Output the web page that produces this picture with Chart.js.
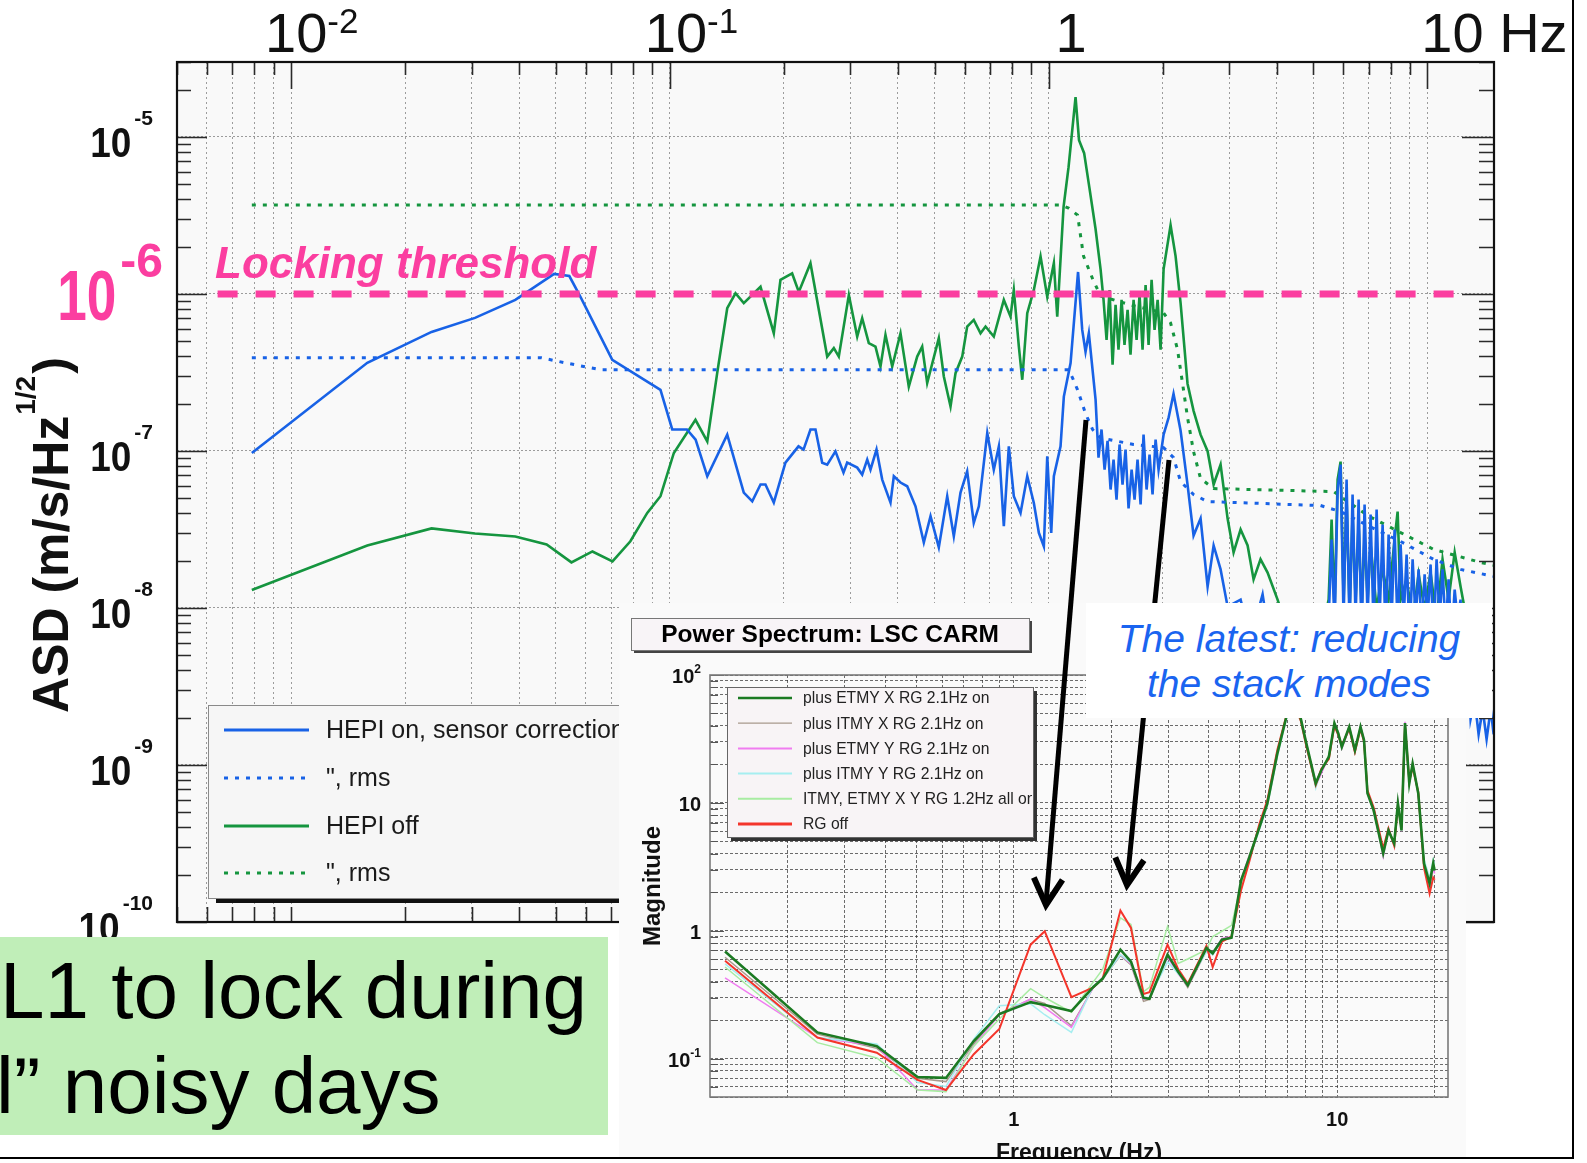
<!DOCTYPE html>
<html>
<head>
<meta charset="utf-8">
<title>HEPI sensor correction – ground velocity ASD</title>
<script src="https://cdn.jsdelivr.net/npm/chart.js@4.4.1/dist/chart.umd.min.js"></script>
<style>
  html, body { margin: 0; padding: 0; background: #fff; }
  body { position: relative; width: 1587px; height: 1163px; overflow: hidden;
         font-family: "Liberation Sans", Arial, sans-serif; }
  #asd { position: absolute; left: 0; top: 0; z-index: 0; }
  #carmPanel { position: absolute; left: 619px; top: 603px; width: 847px; height: 555px;
               background: #fafafa; z-index: 1; }
  #carm { position: absolute; left: 0; top: 0; }
  #arrows { position: absolute; left: 0; top: 0; z-index: 2; pointer-events: none; }
  #stackNote { position: absolute; left: 1086px; top: 603px; width: 406px; height: 115px;
               background: #fff; z-index: 3; box-sizing: border-box; padding-top: 13px;
               color: #1a64f0; font: italic 39px/45px "Liberation Sans", Arial, sans-serif;
               text-align: center; white-space: nowrap; }
  #lockNote { position: absolute; left: 0; top: 937px; width: 608px; height: 198px;
              background: #c0eeb8; z-index: 3; box-sizing: border-box; padding-top: 6px;
              color: #000; font: 80px/95px "Liberation Sans", Arial, sans-serif;
              white-space: nowrap; overflow: hidden; }
  .rule { position: absolute; background: #000; z-index: 4; }
</style>
</head>
<body>
<canvas id="asd" width="1587" height="1163"></canvas>
<div id="carmPanel"><canvas id="carm" width="847" height="555"></canvas></div>
<svg id="arrows" width="1587" height="1163"></svg>
<div id="stackNote">The latest: reducing<br>the stack modes</div>
<div id="lockNote"><div>L1 to lock during</div><div style="margin-left:-4px">l” noisy days</div></div>
<div class="rule" style="left:1572px;top:0;width:2px;height:1159px"></div>
<div class="rule" style="left:0;top:1157px;width:1574px;height:2px"></div>

<script>
// ---------------- Ground velocity ASD (m/s/√Hz) vs frequency (Hz) ----------------
const hepiOnFreq = [
  0.00788, 0.0159, 0.0235, 0.0306, 0.0391, 0.0495, 0.0543, 0.0581, 0.0705, 0.0945,
  0.1015, 0.111, 0.117, 0.1256, 0.1418, 0.1568, 0.1651, 0.1736, 0.1789, 0.1882,
  0.202, 0.2187, 0.2255, 0.2352, 0.2425, 0.2526, 0.2604, 0.2738, 0.2875, 0.294,
  0.3125, 0.3221, 0.3321, 0.3388, 0.3514, 0.3638, 0.3826, 0.3904, 0.4066, 0.4235,
  0.4454, 0.4685, 0.488, 0.5132, 0.5401, 0.5622, 0.5856, 0.6098, 0.6347, 0.6546,
  0.689, 0.7169, 0.7392, 0.762, 0.7855, 0.8097, 0.8435, 0.8786, 0.9145, 0.9428,
  0.9719, 0.9922, 1.0165, 1.0328, 1.0757, 1.0975, 1.1433, 1.1965, 1.2272, 1.2522,
  1.2776,
  1.331, 1.355, 1.380, 1.406, 1.4316, 1.458, 1.4847, 1.512, 1.540, 1.568,
  1.597, 1.6266, 1.657, 1.687, 1.7178, 1.750, 1.7817, 1.815, 1.848, 1.882,
  1.917, 1.952,
  2.0127, 2.0749, 2.138, 2.2314, 2.328, 2.415, 2.52, 2.63, 2.728, 2.846,
  2.97, 3.214, 3.415, 3.674, 3.975, 4.355, 4.771, 5.164,
  5.489, 5.589, 5.692, 5.797, 5.903, 6.012, 6.122, 6.235, 6.349, 6.467,
  6.586, 6.707, 6.830, 6.957, 7.085, 7.215, 7.348, 7.482, 7.621, 7.761,
  7.904, 8.049, 8.197, 8.349, 8.502, 8.659, 8.818, 8.981, 9.146, 9.314,
  9.485, 9.660, 9.838, 10.02, 10.20, 10.39, 10.58, 10.78, 10.97, 11.18,
  11.38, 11.59, 11.81, 12.02, 12.24, 12.47, 12.70, 13.01, 13.33, 13.66,
  14.00, 14.34, 14.70, 14.97
];
const hepiOnAsd = [
  9.71e-8, 3.64e-7, 5.73e-7, 7.04e-7, 9.16e-7, 1.34e-6, 1.30e-6, 9.57e-7, 3.81e-7, 2.45e-7,
  1.37e-7, 1.37e-7, 1.18e-7, 6.90e-8, 1.27e-7, 5.43e-8, 4.78e-8, 6.11e-8, 6.11e-8, 4.69e-8,
  8.42e-8, 1.07e-7, 1.02e-7, 1.37e-7, 1.37e-7, 8.42e-8, 8.18e-8, 9.94e-8, 7.28e-8, 8.42e-8,
  7.83e-8, 7.07e-8, 8.81e-8, 7.60e-8, 1.02e-7, 6.57e-8, 4.69e-8, 6.90e-8, 6.29e-8, 5.96e-8,
  4.44e-8, 2.61e-8, 3.84e-8, 2.43e-8, 5.15e-8, 2.86e-8, 5.43e-8, 7.42e-8, 3.48e-8, 4.44e-8,
  1.30e-7, 7.60e-8, 1.07e-7, 3.32e-8, 1.07e-7, 5.15e-8, 4.03e-8, 6.90e-8, 4.66e-8, 3.01e-8,
  2.47e-8, 9.24e-8, 3.01e-8, 6.90e-8, 1.07e-7, 2.22e-7, 3.63e-7, 1.38e-6, 5.90e-7, 4.28e-7,
  5.62e-7,
  2.12e-7, 9.07e-8, 1.37e-7, 7.60e-8, 1.16e-7, 5.68e-8, 8.81e-8, 4.90e-8, 1.10e-7, 6.11e-8,
  1.02e-7, 4.30e-8, 7.60e-8, 4.90e-8, 8.81e-8, 4.56e-8, 1.27e-7, 5.68e-8, 9.47e-8, 5.28e-8,
  1.18e-7, 7.60e-8,
  1.27e-7, 1.63e-7, 2.31e-7, 1.35e-7, 6.11e-8, 2.89e-8, 3.71e-8, 1.37e-8, 2.50e-8, 1.76e-8,
  1.02e-8, 1.13e-8, 6.32e-9, 1.22e-8, 3.52e-9, 8.46e-9, 1.96e-9, 4.71e-9,
  8.46e-9, 2.73e-8, 7.31e-9, 5.68e-8, 8.18e-8, 8.46e-9, 6.57e-8, 7.31e-9, 5.28e-8, 8.46e-9,
  4.90e-8, 6.32e-9, 4.56e-8, 8.46e-9, 3.94e-8, 7.31e-9, 4.23e-8, 8.46e-9, 3.40e-8, 6.32e-9,
  2.94e-8, 8.46e-9, 3.16e-8, 7.31e-9, 2.54e-8, 8.46e-9, 2.19e-8, 6.32e-9, 2.04e-8, 8.46e-9,
  1.76e-8, 7.31e-9, 1.64e-8, 8.46e-9, 1.89e-8, 6.32e-9, 2.04e-8, 8.46e-9, 1.76e-8, 7.31e-9,
  1.52e-8, 6.32e-9, 1.31e-8, 8.46e-9, 1.13e-8, 2.62e-9, 6.32e-9, 1.96e-9, 2.62e-9, 1.57e-9,
  2.27e-9, 1.46e-9, 2.27e-9, 1.57e-9
];
const hepiOnRmsFreq = [0.00788, 0.0458, 0.053, 0.0656, 1.129, 1.157, 1.193, 1.2522, 1.307, 1.3719,
  1.677, 2.0127, 2.138, 2.2314, 2.415, 2.63, 5.226, 5.902, 6.957, 8.501, 10.39, 12.24, 14.96];
const hepiOnRms = [3.92e-7, 3.92e-7, 3.64e-7, 3.29e-7, 3.29e-7, 2.92e-7, 2.45e-7, 1.73e-7, 1.37e-7, 1.21e-7,
  1.10e-7, 1.05e-7, 9.07e-8, 6.38e-8, 5.28e-8, 4.76e-8, 4.49e-8, 4.11e-8, 3.35e-8, 2.65e-8, 2.04e-8, 1.76e-8, 1.59e-8];

const hepiOffFreq = [
  0.00788, 0.0159, 0.0235, 0.0306, 0.0391, 0.0473, 0.055, 0.0625, 0.0706, 0.0787,
  0.0872, 0.0945, 0.1025, 0.1169, 0.1256, 0.1334, 0.1418, 0.1491, 0.1568, 0.1736,
  0.1882, 0.196, 0.2104, 0.2191, 0.2352, 0.2604, 0.2711, 0.2794, 0.297, 0.3125,
  0.3221, 0.3353, 0.3492, 0.36, 0.3711, 0.3866, 0.4066, 0.4276, 0.45, 0.4639,
  0.4782, 0.5132, 0.5291, 0.5511, 0.5681, 0.5917, 0.6098, 0.6347, 0.6614, 0.6818,
  0.7169, 0.762, 0.7936, 0.8097, 0.8349, 0.8523, 0.8786, 0.9145, 0.9526, 0.9922,
  1.0328, 1.0543, 1.0955, 1.1293, 1.1785, 1.2036, 1.2416, 1.2813, 1.3309, 1.3719,
  1.397, 1.423, 1.449, 1.476, 1.503, 1.530, 1.559, 1.587, 1.617, 1.646,
  1.677, 1.708, 1.739, 1.771, 1.804, 1.837, 1.871, 1.905, 1.941, 1.976,
  2.0127, 2.0999, 2.1647, 2.2314, 2.328, 2.415, 2.52, 2.63, 2.728, 2.846,
  2.97, 3.08, 3.214, 3.354, 3.478, 3.628, 3.787, 4.024, 4.355, 4.771,
  5.164,
  5.489, 5.589, 5.692, 5.797, 5.903, 6.012, 6.122, 6.235, 6.349, 6.467,
  6.586, 6.707, 6.830, 6.957, 7.085, 7.348, 7.621, 7.904, 8.197, 8.349,
  8.502, 8.818, 9.146, 9.485, 9.838, 10.20, 10.58, 10.97, 11.38, 11.81,
  12.24, 12.70, 13.33, 14.00, 14.70
];
const hepiOffAsd = [
  1.30e-8, 2.50e-8, 3.21e-8, 2.98e-8, 2.85e-8, 2.54e-8, 1.95e-8, 2.29e-8, 1.98e-8, 2.66e-8,
  4.03e-8, 5.15e-8, 9.71e-8, 1.58e-7, 1.15e-7, 3.13e-7, 8.11e-7, 1.01e-6, 8.73e-7, 1.11e-6,
  5.62e-7, 1.23e-6, 1.35e-6, 1.03e-6, 1.57e-6, 3.99e-7, 4.52e-7, 3.99e-7, 9.85e-7, 5.35e-7,
  7.00e-7, 4.86e-7, 4.62e-7, 3.45e-7, 5.49e-7, 3.45e-7, 5.62e-7, 2.57e-7, 3.99e-7, 4.62e-7,
  2.71e-7, 5.23e-7, 2.98e-7, 1.92e-7, 3.13e-7, 3.99e-7, 6.20e-7, 6.83e-7, 5.62e-7, 6.20e-7,
  5.35e-7, 9.16e-7, 7.17e-7, 1.06e-6, 4.62e-7, 2.84e-7, 7.54e-7, 1.06e-6, 1.73e-6, 9.61e-7,
  1.57e-6, 7.17e-7, 3.57e-6, 6.42e-6, 1.79e-5, 9.53e-6, 7.88e-6, 4.79e-6, 2.59e-6, 1.44e-6,
  9.16e-7, 5.10e-7, 1.06e-6, 3.54e-7, 8.51e-7, 4.41e-7, 9.16e-7, 4.74e-7, 7.91e-7, 4.10e-7,
  9.16e-7, 5.10e-7, 9.85e-7, 4.41e-7, 1.14e-6, 4.74e-7, 1.23e-6, 5.90e-7, 9.16e-7, 4.41e-7,
  1.44e-6, 2.74e-6, 1.74e-6, 8.77e-7, 2.68e-7, 1.80e-7, 1.27e-7, 9.96e-8, 6.11e-8, 8.18e-8,
  3.71e-8, 2.26e-8, 3.16e-8, 2.50e-8, 1.52e-8, 2.04e-8, 1.68e-8, 1.13e-8, 6.32e-9, 8.46e-9,
  5.46e-9,
  1.13e-8, 3.66e-8, 9.80e-9, 6.57e-8, 8.55e-8, 1.13e-8, 4.90e-8, 9.80e-9, 3.88e-8, 1.13e-8,
  3.40e-8, 9.80e-9, 2.89e-8, 1.13e-8, 2.54e-8, 9.80e-9, 1.76e-8, 1.13e-8, 2.73e-8, 4.11e-8,
  1.13e-8, 1.52e-8, 8.46e-9, 1.64e-8, 9.80e-9, 1.68e-8, 8.46e-9, 2.04e-8, 1.13e-8, 2.26e-8,
  1.37e-8, 8.46e-9, 9.80e-9, 6.32e-9, 8.46e-9
];
const hepiOffRmsFreq = [0.00788, 1.0757, 1.1293, 1.193, 1.237, 1.307, 1.3719, 1.6463, 2.0127, 2.0999,
  2.191, 2.259, 2.328, 2.415, 2.52, 2.728, 5.657, 6.957, 8.501, 10.39, 13.82, 14.96];
const hepiOffRms = [3.68e-6, 3.68e-6, 3.52e-6, 3.18e-6, 1.74e-6, 1.25e-6, 9.71e-7, 8.51e-7, 7.57e-7, 6.54e-7,
  4.41e-7, 2.68e-7, 1.63e-7, 9.90e-8, 6.67e-8, 5.76e-8, 5.51e-8, 3.88e-8, 3.02e-8, 2.36e-8, 1.95e-8, 1.87e-8];

// locking threshold level
const lockFreq = [0.0064, 12.2];
const lockLevel = [1e-6, 1e-6];

// axis decades and their labels
const asdDecades = [1e-10, 1e-9, 1e-8, 1e-7, 1e-6, 1e-5];
const asdDecadeExp = ['-10', '-9', '-8', '-7', '-6', '-5'];
const freqDecades = [0.01, 0.1, 1, 10];
const freqDecadeBase = ['10', '10', '1', '10 Hz'];
const freqDecadeExp = ['-2', '-1', '', ''];

// ---------------- Power Spectrum: LSC CARM ----------------
const carmFreq = [
  0.128, 0.247, 0.377, 0.504, 0.617, 0.752, 0.902, 1.127, 1.246, 1.507,
  1.762, 1.883, 2.136, 2.303, 2.518, 2.627, 2.988, 3.222, 3.45, 3.94,
  4.12, 4.40, 4.71, 5.04, 5.35, 5.75, 6.08, 6.53, 6.96, 7.3,
  7.71, 8.02, 8.58, 8.93, 9.42, 9.8, 10.07, 10.33, 10.89, 11.34,
  11.8, 12.1, 12.4, 12.96, 13.87, 14.4, 15.0, 15.4, 15.8, 16.2,
  16.7, 17.1, 17.8, 18.55, 19.3, 19.8, 20.0
];
const etmyXOn = [
  0.687, 0.160, 0.125, 0.0716, 0.0705, 0.137, 0.223, 0.276, 0.262, 0.235,
  0.363, 0.422, 0.710, 0.573, 0.298, 0.293, 0.649, 0.477, 0.374, 0.730,
  0.666, 0.850, 0.880, 2.47, 3.76, 6.46, 9.9, 24.4, 46.9, 64,
  45.8, 29.3, 14.2, 18.0, 22.9, 42, 35, 27.4, 39.3, 25.8,
  39.3, 30.9, 11.9, 8.73, 4.02, 6.09, 4.81, 9.9, 6.09, 42,
  14.2, 20.3, 11.9, 3.35, 2.34, 3.35, 2.95
];
const itmyXOn = [
  0.62, 0.155, 0.12, 0.07, 0.066, 0.13, 0.225, 0.29, 0.27, 0.18,
  0.36, 0.42, 0.64, 0.54, 0.28, 0.29, 0.64, 0.47, 0.36, 0.7,
  0.65, 0.86, 0.87, 2.4, 3.7, 6.6, 9.6, 24, 47, 63,
  46, 29, 14, 17.5, 23.5, 41, 36, 27, 40, 26,
  39, 31, 12, 8.5, 4.1, 6.0, 4.9, 9.6, 6.2, 41,
  14.5, 20, 12, 3.3, 2.3, 3.2, 3.0
];
const etmyYOn = [
  0.428, 0.146, 0.125, 0.0567, 0.0567, 0.125, 0.22, 0.293, 0.25, 0.175,
  0.36, 0.43, 0.648, 0.55, 0.29, 0.3, 0.62, 0.46, 0.37, 0.7,
  0.67, 0.87, 0.9, 2.5, 3.9, 6.3, 10.2, 25, 46, 63,
  46, 30, 13.5, 17, 23, 41, 34, 26.5, 38, 25,
  40, 31.5, 12.2, 9.0, 3.8, 6.2, 4.7, 10.2, 6.0, 43,
  14, 20.5, 11.6, 3.2, 2.2, 3.1, 2.8
];
const itmyYOn = [
  0.55, 0.146, 0.13, 0.065, 0.0605, 0.142, 0.259, 0.268, 0.22, 0.16,
  0.37, 0.42, 0.648, 0.56, 0.3, 0.3, 0.57, 0.46, 0.39, 0.68,
  0.65, 0.84, 0.89, 2.3, 3.6, 6.2, 9.4, 23, 45, 62,
  45, 28.5, 13, 18.5, 23, 42, 35, 27, 39, 26.5,
  39, 30.5, 12, 8.9, 4.1, 6.1, 4.8, 9.8, 6.1, 42,
  14.4, 20, 12, 3.6, 2.6, 3.6, 3.3
];
const allOn12 = [
  0.52, 0.133, 0.101, 0.0567, 0.0551, 0.125, 0.204, 0.352, 0.3, 0.23,
  0.398, 0.5, 1.26, 1.12, 0.333, 0.36, 1.08, 0.555, 0.6, 0.71,
  0.9, 0.99, 1.1, 2.3, 3.9, 6.6, 10, 24, 47, 64,
  47, 29, 14.5, 18, 23.5, 42, 35, 27, 39.5, 26,
  39, 31, 12, 8.8, 4.0, 6.1, 4.8, 9.9, 6.1, 42,
  14.2, 20.3, 11.9, 3.4, 2.5, 3.4, 3.1
];
const rgOff = [
  0.582, 0.146, 0.111, 0.068, 0.0567, 0.108, 0.17, 0.777, 0.99, 0.302,
  0.36, 0.422, 1.44, 1.05, 0.32, 0.33, 0.777, 0.5, 0.385, 0.76,
  0.52, 0.82, 0.9, 2.06, 3.5, 6.9, 10.5, 26, 48, 62,
  44, 28, 13.8, 18.5, 22, 40, 34, 28, 38, 25,
  38, 30, 12.5, 9.2, 4.4, 6.3, 4.6, 9.5, 6.4, 40,
  14.8, 19, 12.2, 3.1, 1.95, 2.6, 2.5
];
const carmDecades = [0.1, 1, 10, 100];
const carmDecadeBase = ['10', '1', '10', '10'];
const carmDecadeExp = ['-1', '', '', '2'];
const carmFreqTicks = [1, 10];
const carmFreqLabels = ['1', '10'];

// ---------------- helpers ----------------
const FONT = '"Liberation Sans", Arial, sans-serif';
const BLUE = '#1862e6', GREEN = '#15953f', PINK = '#fb3ea0';
const series = (xs, ys) => xs.map((x, i) => ({ x, y: ys[i] }));
function logSteps(lo, hi, e0, e1) {
  const out = [];
  for (let e = e0; e <= e1; e++)
    for (let m = 1; m <= 9; m++) {
      const v = +(m * Math.pow(10, e)).toPrecision(6);
      if (v >= lo * 0.999 && v <= hi * 1.001) out.push(v);
    }
  return out;
}
const isDecade = v => Math.abs(Math.log10(v) - Math.round(Math.log10(v))) < 1e-6;

// text "base^exp" with optional horizontal squeeze
function powerText(ctx, base, exp, x, y, o) {
  ctx.save();
  ctx.fillStyle = o.color;
  ctx.textAlign = 'left';
  ctx.textBaseline = 'alphabetic';
  ctx.font = o.baseFont;
  const bw = ctx.measureText(base).width * o.sx;
  ctx.font = o.expFont;
  const ew = exp ? ctx.measureText(exp).width * o.esx : 0;
  const left = o.align === 'right' ? x - bw - ew - (exp ? o.gap : 0) : x;
  ctx.save(); ctx.translate(left, y); ctx.scale(o.sx, 1);
  ctx.font = o.baseFont; ctx.fillText(base, 0, 0); ctx.restore();
  if (exp) {
    ctx.save(); ctx.translate(left + bw + o.gap, y - o.rise); ctx.scale(o.esx, 1);
    ctx.font = o.expFont; ctx.fillText(exp, 0, 0); ctx.restore();
  }
  ctx.restore();
}

// ---------------- main ASD chart ----------------
const asdXGrid = logSteps(0.005, 15, -3, 1);
const asdYMinor = logSteps(1e-10, 3e-5, -10, -5);

const asdDecor = {
  id: 'asdDecor',
  beforeDraw(chart) {
    const { ctx, chartArea: a } = chart;
    ctx.save();
    ctx.fillStyle = '#f9f9f9';
    ctx.fillRect(a.left, a.top, a.right - a.left, a.bottom - a.top);
    ctx.restore();
  },
  afterDraw(chart) {
    const { ctx, chartArea: a, scales: { x, y } } = chart;
    ctx.save();
    // tick marks on the four sides of the frame
    ctx.strokeStyle = '#2a2a2a';
    ctx.lineWidth = 1.6;
    ctx.beginPath();
    asdXGrid.forEach(v => {
      const px = Math.round(x.getPixelForValue(v)) + 0.5;
      const len = isDecade(v) ? 27 : 13;
      ctx.moveTo(px, a.top); ctx.lineTo(px, a.top + len);
      ctx.moveTo(px, a.bottom); ctx.lineTo(px, a.bottom - 15);
    });
    asdYMinor.forEach(v => {
      const py = Math.round(y.getPixelForValue(v)) + 0.5;
      const major = isDecade(v);
      ctx.moveTo(a.left, py); ctx.lineTo(a.left + (major ? 30 : 14), py);
      ctx.moveTo(a.right, py); ctx.lineTo(a.right - (major ? 32 : 15), py);
    });
    ctx.stroke();
    // frame
    ctx.strokeStyle = '#111';
    ctx.lineWidth = 2.2;
    ctx.strokeRect(a.left, a.top, a.right - a.left, a.bottom - a.top);

    // legend box
    const lg = { left: 208, top: 705, right: 760, bottom: 898 };
    ctx.fillStyle = '#111';
    ctx.fillRect(lg.left + 8, lg.bottom, lg.right - lg.left, 5);
    ctx.fillStyle = '#f6f6f6';
    ctx.fillRect(lg.left, lg.top, lg.right - lg.left, lg.bottom - lg.top);
    ctx.strokeStyle = '#8a8a8a';
    ctx.lineWidth = 1;
    ctx.strokeRect(lg.left + 0.5, lg.top + 0.5, lg.right - lg.left, lg.bottom - lg.top);
    const rows = [730, 778, 826, 873];
    chart.data.datasets.filter(d => d.inLegend).forEach((d, i) => {
      const ry = rows[i];
      ctx.save();
      ctx.strokeStyle = d.borderColor;
      ctx.lineWidth = 3;
      ctx.setLineDash(d.borderDash || []);
      ctx.beginPath(); ctx.moveTo(224, ry); ctx.lineTo(309, ry); ctx.stroke();
      ctx.restore();
      ctx.fillStyle = '#1a1a1a';
      ctx.font = '25px ' + FONT;
      ctx.textBaseline = 'middle';
      ctx.fillText(d.label, 326, ry + 1);
    });

    // left tick labels 10^n
    asdDecades.forEach((v, i) => {
      const py = y.getPixelForValue(v);
      if (v === 1e-6) {
        powerText(ctx, '10', asdDecadeExp[i], 163, py + 26,
          { color: PINK, baseFont: 'bold 70px ' + FONT, expFont: 'bold 48px ' + FONT,
            sx: 0.76, esx: 1, gap: 4, rise: 43, align: 'right' });
      } else {
        powerText(ctx, '10', asdDecadeExp[i], 153, py + 20,
          { color: '#111', baseFont: 'bold 42px ' + FONT, expFont: 'bold 21px ' + FONT,
            sx: 0.88, esx: 1, gap: 3, rise: 32, align: 'right' });
      }
    });
    // top frequency labels
    const topShift = [-26, -25, 7, -6];
    freqDecades.forEach((v, i) => {
      const px = x.getPixelForValue(v) + topShift[i];
      powerText(ctx, freqDecadeBase[i], freqDecadeExp[i], px, 52,
        { color: '#111', baseFont: '56px ' + FONT, expFont: '35px ' + FONT,
          sx: 1, esx: 1, gap: 0, rise: 19, align: 'left' });
    });
    // y axis title
    ctx.save();
    ctx.translate(68, 713);
    ctx.rotate(-Math.PI / 2);
    ctx.fillStyle = '#111';
    ctx.textBaseline = 'alphabetic';
    ctx.font = 'bold 50px ' + FONT;
    const t1 = 'ASD (m/s/Hz';
    ctx.fillText(t1, 0, 0);
    const w1 = ctx.measureText(t1).width;
    ctx.font = 'bold 28px ' + FONT;
    ctx.fillText('1/2', w1 + 1, -33);
    const w2 = ctx.measureText('1/2').width;
    ctx.font = 'bold 50px ' + FONT;
    ctx.fillText(')', w1 + w2 + 3, 0);
    ctx.restore();
    // threshold caption
    ctx.fillStyle = PINK;
    ctx.font = 'italic bold 44px ' + FONT;
    ctx.textBaseline = 'alphabetic';
    ctx.fillText('Locking threshold', a.left + 38, y.getPixelForValue(1e-6) - 16);
    ctx.restore();
  }
};

new Chart(document.getElementById('asd'), {
  type: 'line',
  data: {
    datasets: [
      { label: 'Locking threshold', data: series(lockFreq, lockLevel), borderColor: PINK,
        borderWidth: 7, borderDash: [20, 18], inLegend: false },
      { label: 'HEPI on, sensor correction', data: series(hepiOnFreq, hepiOnAsd), borderColor: BLUE,
        borderWidth: 2.6, inLegend: true },
      { label: '", rms', data: series(hepiOnRmsFreq, hepiOnRms), borderColor: BLUE,
        borderWidth: 3, borderDash: [4, 7], inLegend: true },
      { label: 'HEPI off', data: series(hepiOffFreq, hepiOffAsd), borderColor: GREEN,
        borderWidth: 2.6, inLegend: true },
      { label: '", rms', data: series(hepiOffRmsFreq, hepiOffRms), borderColor: GREEN,
        borderWidth: 3, borderDash: [4, 7], inLegend: true }
    ]
  },
  options: {
    responsive: false, animation: false, devicePixelRatio: 1, events: [],
    layout: { padding: { left: 177, top: 62, right: 93, bottom: 241 } },
    elements: { point: { radius: 0 }, line: { tension: 0, fill: false } },
    plugins: { legend: { display: false }, tooltip: { enabled: false } },
    scales: {
      x: {
        type: 'logarithmic', min: 0.005, max: 15,
        ticks: { display: false },
        grid: { color: '#9c9c9c', lineWidth: 1, drawTicks: false },
        border: { display: false, dash: [2, 3] },
        afterBuildTicks: s => { s.ticks = asdXGrid.map(v => ({ value: v })); }
      },
      y: {
        type: 'logarithmic', min: 1e-10, max: 3e-5,
        ticks: { display: false },
        grid: { color: '#9c9c9c', lineWidth: 1, drawTicks: false },
        border: { display: false, dash: [2, 2] },
        afterBuildTicks: s => { s.ticks = asdDecades.map(v => ({ value: v })); }
      }
    }
  },
  plugins: [asdDecor]
});

// ---------------- CARM power spectrum chart ----------------
const carmXGrid = logSteps(0.115, 22, -1, 1);
const carmYGrid = logSteps(0.05, 100, -2, 2);

const carmDecor = {
  id: 'carmDecor',
  afterDraw(chart) {
    const { ctx, chartArea: a, scales: { x, y } } = chart;
    ctx.save();
    // small inward ticks on left axis
    ctx.strokeStyle = '#555';
    ctx.lineWidth = 1;
    ctx.beginPath();
    carmYGrid.forEach(v => {
      const py = Math.round(y.getPixelForValue(v)) + 0.5;
      ctx.moveTo(a.left, py); ctx.lineTo(a.left + (isDecade(v) ? 14 : 8), py);
    });
    ctx.stroke();
    // frame
    ctx.strokeStyle = '#7a7a7a';
    ctx.lineWidth = 1.6;
    ctx.strokeRect(a.left, a.top, a.right - a.left, a.bottom - a.top);

    // y tick labels
    carmDecades.forEach((v, i) => {
      powerText(ctx, carmDecadeBase[i], carmDecadeExp[i], a.left - 9, y.getPixelForValue(v) + 8,
        { color: '#111', baseFont: 'bold 20px ' + FONT, expFont: 'bold 12px ' + FONT,
          sx: 1, esx: 1, gap: 0, rise: 10, align: 'right' });
    });
    // x tick labels
    ctx.fillStyle = '#111';
    ctx.font = 'bold 20px ' + FONT;
    ctx.textAlign = 'center';
    ctx.textBaseline = 'alphabetic';
    carmFreqTicks.forEach((v, i) => ctx.fillText(carmFreqLabels[i], x.getPixelForValue(v), a.bottom + 29));
    // axis titles
    ctx.font = 'bold 23px ' + FONT;
    ctx.fillText('Frequency (Hz)', (a.left + a.right) / 2, a.bottom + 63);
    ctx.save();
    ctx.translate(41, (a.top + a.bottom) / 2);
    ctx.rotate(-Math.PI / 2);
    ctx.font = 'bold 24px ' + FONT;
    ctx.fillText('Magnitude', 0, 0);
    ctx.restore();

    // title box
    const tb = { x: 12, y: 15, w: 398, h: 32 };
    ctx.fillStyle = '#444';
    ctx.fillRect(tb.x + 3, tb.y + 3, tb.w, tb.h);
    ctx.fillStyle = '#f8f4f7';
    ctx.fillRect(tb.x, tb.y, tb.w, tb.h);
    ctx.strokeStyle = '#777';
    ctx.lineWidth = 1;
    ctx.strokeRect(tb.x + 0.5, tb.y + 0.5, tb.w, tb.h);
    ctx.fillStyle = '#000';
    ctx.font = 'bold 24.5px ' + FONT;
    ctx.textAlign = 'center';
    ctx.textBaseline = 'middle';
    ctx.fillText('Power Spectrum: LSC CARM', tb.x + tb.w / 2, tb.y + tb.h / 2 + 1);

    // legend box
    const lg = { x: 108, y: 84, w: 306, h: 150 };
    ctx.fillStyle = '#333';
    ctx.fillRect(lg.x + 4, lg.y + 4, lg.w, lg.h);
    ctx.fillStyle = '#f8f4f6';
    ctx.fillRect(lg.x, lg.y, lg.w, lg.h);
    ctx.strokeStyle = '#666';
    ctx.strokeRect(lg.x + 0.5, lg.y + 0.5, lg.w, lg.h);
    ctx.save();
    ctx.beginPath(); ctx.rect(lg.x, lg.y, lg.w - 1, lg.h); ctx.clip();
    chart.data.datasets.forEach((d, i) => {
      const ry = lg.y + 11 + i * 25.2;
      ctx.strokeStyle = d.borderColor;
      ctx.lineWidth = d.legendWidth;
      ctx.beginPath(); ctx.moveTo(119, ry); ctx.lineTo(173, ry); ctx.stroke();
      ctx.fillStyle = '#222';
      ctx.font = '15.7px ' + FONT;
      ctx.textAlign = 'left';
      ctx.textBaseline = 'middle';
      ctx.fillText(d.label, 184, ry + 1);
    });
    ctx.restore();
    ctx.restore();
  }
};

new Chart(document.getElementById('carm'), {
  type: 'line',
  data: {
    datasets: [
      { label: 'plus ETMY X RG 2.1Hz on', data: series(carmFreq, etmyXOn), borderColor: '#1b7a22',
        borderWidth: 2.6, legendWidth: 2.5, order: 0 },
      { label: 'plus ITMY X RG 2.1Hz on', data: series(carmFreq, itmyXOn), borderColor: '#a89a8c',
        borderWidth: 1.5, legendWidth: 1.2, order: 5 },
      { label: 'plus ETMY Y RG 2.1Hz on', data: series(carmFreq, etmyYOn), borderColor: '#f07cf0',
        borderWidth: 1.5, legendWidth: 2, order: 4 },
      { label: 'plus ITMY Y RG 2.1Hz on', data: series(carmFreq, itmyYOn), borderColor: '#a6eef0',
        borderWidth: 1.5, legendWidth: 2, order: 3 },
      { label: 'ITMY, ETMY X Y RG 1.2Hz all on', data: series(carmFreq, allOn12), borderColor: '#a8eca2',
        borderWidth: 1.5, legendWidth: 2, order: 2 },
      { label: 'RG off', data: series(carmFreq, rgOff), borderColor: '#f4352b',
        borderWidth: 2, legendWidth: 3, order: 1 }
    ]
  },
  options: {
    responsive: false, animation: false, devicePixelRatio: 1, events: [],
    layout: { padding: { left: 91, top: 72, right: 18, bottom: 61 } },
    elements: { point: { radius: 0 }, line: { tension: 0, fill: false } },
    plugins: { legend: { display: false }, tooltip: { enabled: false } },
    scales: {
      x: {
        type: 'logarithmic', min: 0.115, max: 22,
        ticks: { display: false },
        grid: { color: 'rgba(45,45,45,0.7)', lineWidth: 1, drawTicks: false },
        border: { display: false, dash: [3, 2] },
        afterBuildTicks: s => { s.ticks = carmXGrid.map(v => ({ value: v })); }
      },
      y: {
        type: 'logarithmic', min: 0.05, max: 100,
        ticks: { display: false },
        grid: { color: 'rgba(45,45,45,0.7)', lineWidth: 1, drawTicks: false },
        border: { display: false, dash: [3, 2] },
        afterBuildTicks: s => { s.ticks = carmYGrid.map(v => ({ value: v })); }
      }
    }
  },
  plugins: [carmDecor]
});

// ---------------- callout arrows ----------------
const calloutArrows = [
  { from: [1086, 420], to: [1046, 905] },
  { from: [1169, 460], to: [1127, 885] }
];
const svg = document.getElementById('arrows');
const NS = 'http://www.w3.org/2000/svg';
calloutArrows.forEach(({ from, to }) => {
  const ln = document.createElementNS(NS, 'line');
  ln.setAttribute('x1', from[0]); ln.setAttribute('y1', from[1]);
  ln.setAttribute('x2', to[0]); ln.setAttribute('y2', to[1] - 2);
  ln.setAttribute('stroke', '#000'); ln.setAttribute('stroke-width', '5');
  svg.appendChild(ln);
  const ang = Math.atan2(to[1] - from[1], to[0] - from[0]), L = 30, s = 0.5;
  const p1 = [to[0] - L * Math.cos(ang - s), to[1] - L * Math.sin(ang - s)];
  const p2 = [to[0] - L * Math.cos(ang + s), to[1] - L * Math.sin(ang + s)];
  const head = document.createElementNS(NS, 'polyline');
  head.setAttribute('points', `${p1[0]},${p1[1]} ${to[0]},${to[1]} ${p2[0]},${p2[1]}`);
  head.setAttribute('fill', 'none'); head.setAttribute('stroke', '#000');
  head.setAttribute('stroke-width', '6'); head.setAttribute('stroke-linejoin', 'miter');
  svg.appendChild(head);
});
</script>
</body>
</html>
